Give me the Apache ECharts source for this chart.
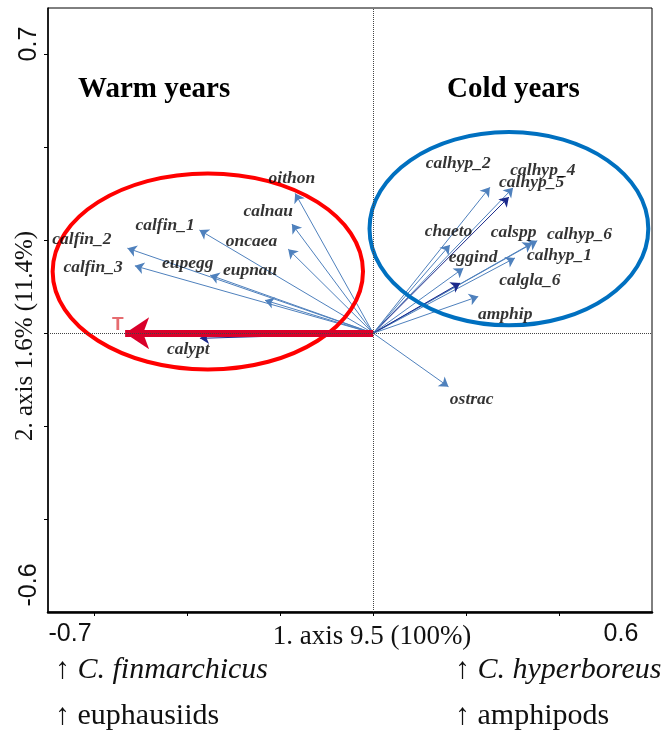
<!DOCTYPE html>
<html>
<head>
<meta charset="utf-8">
<script src="https://cdn.jsdelivr.net/npm/echarts@6/dist/echarts.min.js"></script>
<style>
  html, body { margin: 0; padding: 0; background: #fff; }
  #chart { width: 665px; height: 736px; }
</style>
</head>
<body>
<div id="chart"></div>
<script>
// species vectors (biplot scores)
var species = ['oithon', 'calnau', 'calfin_1', 'oncaea', 'calfin_2', 'calfin_3', 'eupegg', 'eupnau', 'calypt',
               'calhyp_2', 'calhyp_4', 'calhyp_5', 'chaeto', 'calspp', 'calhyp_6', 'calhyp_1', 'eggind', 'calgla_6', 'amphip', 'ostrac'];
var axis1 = [-0.168, -0.175, -0.374, -0.183, -0.529, -0.513, -0.351, -0.233, -0.373,
             0.251, 0.301, 0.292, 0.165, 0.342, 0.353, 0.305, 0.194, 0.187, 0.226, 0.162];
var axis2 = [0.301, 0.235, 0.222, 0.181, 0.183, 0.145, 0.125, 0.071, -0.011,
             0.314, 0.313, 0.293, 0.190, 0.194, 0.199, 0.162, 0.140, 0.108, 0.079, -0.115];
// where each name sits
var labelX = [-0.175, -0.226, -0.448, -0.262, -0.627, -0.603, -0.399, -0.265, -0.398,
              0.183, 0.365, 0.341, 0.162, 0.302, 0.444, 0.401, 0.215, 0.337, 0.284, 0.212];
var labelY = [0.333, 0.262, 0.232, 0.197, 0.202, 0.142, 0.151, 0.136, -0.036,
              0.365, 0.351, 0.324, 0.220, 0.216, 0.213, 0.168, 0.164, 0.114, 0.041, -0.143];
var darkOnes = ['calypt', 'calhyp_5', 'calgla_6'];

// environmental variable
var envName = ['T'];
var envX = [-0.534];
var envY = [0.0];
var envLabelX = [-0.550];
var envLabelY = [0.018];

// ellipses [cx, cy, rx, ry] in axis units
var warmEllipse = [-0.356, 0.133, 0.334, 0.211];
var coldEllipse = [0.292, 0.225, 0.300, 0.208];

var xTicks = [-0.6, -0.4, -0.2, 0, 0.2, 0.4];
var yTicks = [-0.4, -0.2, 0, 0.2, 0.4, 0.6];
var xRange = [-0.7, 0.6];
var yRange = [-0.6, 0.7];

var chart = echarts.init(document.getElementById('chart'));

var arrowData = species.map(function (n, i) {
  return {
    coords: [[0, 0], [axis1[i], axis2[i]]],
    lineStyle: { color: darkOnes.indexOf(n) >= 0 ? '#1c2a8c' : '#4f81bd' }
  };
});
var labelData = species.map(function (n, i) { return [labelX[i], labelY[i], n]; });

function ellipseSeries(e, color) {
  return {
    type: 'custom',
    z: 3,
    silent: true,
    data: [e],
    renderItem: function (params, api) {
      var c = api.coord([api.value(0), api.value(1)]);
      var s = api.size([api.value(2), api.value(3)]);
      return {
        type: 'ellipse',
        shape: { cx: c[0], cy: c[1], rx: s[0], ry: s[1] },
        style: { fill: 'none', stroke: color, lineWidth: 4 }
      };
    }
  };
}

var serif = 'Liberation Serif';
var sans = 'Liberation Sans';

var option = {
  animation: false,
  backgroundColor: '#fff',
  grid: {
    left: 48, top: 8, width: 604, height: 604,
    outerBoundsMode: 'none', containLabel: false,
    show: true, borderColor: '#000', borderWidth: 1
  },
  xAxis: {
    type: 'value', min: xRange[0], max: xRange[1],
    splitLine: { show: false },
    axisLine: { onZero: false, lineStyle: { color: '#000', width: 2.5 } },
    axisTick: { customValues: xTicks, length: 4, lineStyle: { color: '#000' } },
    axisLabel: {
      customValues: xRange, margin: 10,
      color: '#111', fontFamily: sans, fontSize: 25,
      formatter: function (v) { return v < 0 ? '{a|' + v + '}' : '{b|' + v + '}'; },
      rich: {
        a: { fontFamily: sans, fontSize: 25, color: '#111', padding: [0, 0, 0, 44] },
        b: { fontFamily: sans, fontSize: 25, color: '#111', padding: [0, 62, 0, 0] }
      }
    },
    name: '1. axis 9.5 (100%)', nameLocation: 'middle', nameGap: 11, nameMoveOverlap: false,
    nameTextStyle: { fontFamily: serif, fontSize: 27, color: '#111', padding: [0, 0, 0, 44] }
  },
  yAxis: {
    type: 'value', min: yRange[0], max: yRange[1],
    splitLine: { show: false },
    axisLine: { onZero: false, lineStyle: { color: '#000', width: 1.5 } },
    axisTick: { customValues: yTicks, length: 4, lineStyle: { color: '#000' } },
    axisLabel: {
      customValues: yRange, margin: 6, rotate: 90,
      color: '#111', fontFamily: sans, fontSize: 25,
      formatter: function (v) { return v < 0 ? '{a|' + v + '}' : '{b|' + v + '}'; },
      rich: {
        a: { fontFamily: sans, fontSize: 25, color: '#111', padding: [0, 0, 0, 54] },
        b: { fontFamily: sans, fontSize: 25, color: '#111', padding: [0, 72, 0, 0] }
      }
    },
    name: '2. axis 1.6% (11.4%)', nameLocation: 'middle', nameGap: 10, nameMoveOverlap: false,
    nameTextStyle: { fontFamily: serif, fontSize: 25, color: '#111', padding: [0, 52, 0, 0] }
  },
  graphic: [
    { type: 'text', left: 78, top: 75, style: { text: 'Warm years', font: 'bold 29px "Liberation Serif"', fill: '#000' } },
    { type: 'text', left: 447, top: 75, style: { text: 'Cold years', font: 'bold 29px "Liberation Serif"', fill: '#000' } },
    { type: 'text', left: 55, top: 655, style: { text: '↑ {i|C. finmarchicus}', font: '30px "Liberation Serif"', fill: '#111',
        rich: { i: { fontStyle: 'italic', fontFamily: serif, fontSize: 30 } } } },
    { type: 'text', left: 55, top: 701, style: { text: '↑ euphausiids', font: '30px "Liberation Serif"', fill: '#111' } },
    { type: 'text', left: 455, top: 655, style: { text: '↑ {i|C. hyperboreus}', font: '30px "Liberation Serif"', fill: '#111',
        rich: { i: { fontStyle: 'italic', fontFamily: serif, fontSize: 30 } } } },
    { type: 'text', left: 455, top: 701, style: { text: '↑ amphipods', font: '30px "Liberation Serif"', fill: '#111' } }
  ],
  series: [
    {
      type: 'line', data: [], z: 1, silent: true,
      markLine: {
        silent: true, symbol: 'none', label: { show: false },
        lineStyle: { color: '#444', type: 'dotted', width: 1 },
        data: [{ xAxis: 0 }, { yAxis: 0 }]
      }
    },
    {
      type: 'lines', coordinateSystem: 'cartesian2d', z: 2, silent: true,
      symbol: ['none', 'arrow'], symbolSize: 9,
      lineStyle: { width: 1, opacity: 1, curveness: 0 },
      data: arrowData
    },
    ellipseSeries(warmEllipse, '#ff0000'),
    ellipseSeries(coldEllipse, '#0070c0'),
    {
      type: 'lines', coordinateSystem: 'cartesian2d', z: 4, silent: true,
      symbol: ['none', 'arrow'], symbolSize: 24,
      lineStyle: { width: 7, color: '#d9002a', opacity: 1 },
      data: envX.map(function (x, i) { return { coords: [[0, 0], [x, envY[i]]] }; })
    },
    {
      type: 'scatter', z: 5, silent: true, symbolSize: 0,
      data: labelData,
      label: {
        show: true, position: 'inside',
        formatter: function (p) { return p.value[2]; },
        fontFamily: serif, fontStyle: 'italic', fontWeight: 'bold', fontSize: 17.5, color: '#000'
      }
    },
    {
      type: 'scatter', z: 5, silent: true, symbolSize: 0,
      data: envName.map(function (n, i) { return [envLabelX[i], envLabelY[i], n]; }),
      label: {
        show: true, position: 'inside',
        formatter: function (p) { return p.value[2]; },
        fontFamily: sans, fontWeight: 'bold', fontSize: 19, color: '#e0474c'
      }
    }
  ]
};

chart.setOption(option);
</script>
</body>
</html>
